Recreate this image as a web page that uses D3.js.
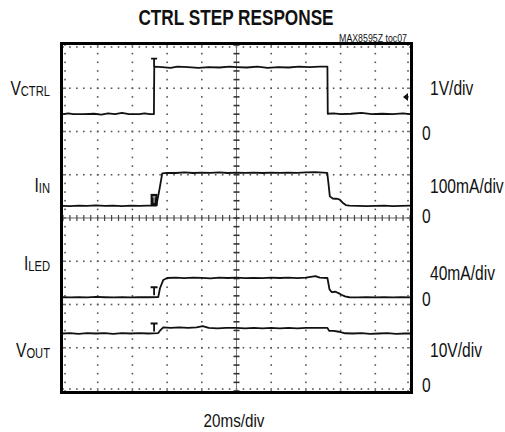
<!DOCTYPE html>
<html>
<head>
<meta charset="utf-8">
<script src="https://cdn.jsdelivr.net/npm/d3@7"></script>
<style>
  html, body { margin: 0; padding: 0; background: #fff; }
  svg { display: block; }
  text { font-family: "Liberation Sans", Arial, sans-serif; fill: #111; }
</style>
</head>
<body>
<div id="chart"></div>
<script>
// time axis: 20ms/div, 10 divisions
const timeDomain = [0, 200];
const divisions = [0, 8];

// traces as [time ms, value] read from the scope shot
const vctrl = [
  [0, 0.40], [3, 0.42], [6, 0.40], [12, 0.40], [18, 0.41], [22, 0.39], [26, 0.42],
  [30, 0.40], [34, 0.43], [38, 0.40], [44, 0.40], [47, 0.42], [50, 0.40], [52.4, 0.40],
  [52.6, 1.50], [57, 1.49], [62, 1.47], [66, 1.50], [72, 1.49], [78, 1.47], [84, 1.49],
  [90, 1.48], [96, 1.50], [100, 1.49], [106, 1.48], [112, 1.50], [118, 1.47], [124, 1.49],
  [130, 1.48], [136, 1.50], [142, 1.49], [148, 1.50], [152.4, 1.50],
  [152.6, 0.41], [156, 0.42], [160, 0.40], [166, 0.41], [172, 0.43], [178, 0.40],
  [184, 0.41], [190, 0.40], [196, 0.42], [200, 0.40]
];
const iin = [
  [0, 28], [4, 27.5], [9, 28.5], [14, 28], [19, 29], [24, 28], [29, 28.5], [34, 27.5],
  [39, 28.5], [44, 28], [49, 28.5], [53.8, 28.5], [55.5, 64], [57.2, 103], [60, 104.5],
  [65, 104], [70, 105.5], [75, 104], [80, 105], [85, 104.5], [90, 105.5], [95, 104],
  [100, 105], [105, 104.5], [110, 105], [115, 104], [120, 105], [125, 104.5], [130, 105],
  [135, 104.5], [140, 105.5], [145, 106], [150, 105], [152.3, 104.5], [153.0, 80],
  [153.8, 50], [155.5, 45], [157, 44.5], [158.5, 44], [159.5, 42.5], [161, 36], [163, 30],
  [165, 28.5], [170, 28], [175, 27.5], [180, 28], [185, 28.5], [190, 27.5], [195, 28],
  [200, 28.5]
];
const iled = [
  [0, 6.7], [4, 6.5], [9, 6.9], [14, 6.6], [19, 7.0], [24, 6.7], [29, 6.5], [34, 6.8],
  [39, 6.6], [44, 6.9], [49, 6.7], [54.9, 6.8], [55.9, 15], [57.8, 22.7], [60, 24.5],
  [65, 24.8], [70, 24.3], [75, 24.9], [80, 24.6], [85, 24.2], [90, 24.8], [95, 24.5],
  [100, 24.9], [105, 24.4], [110, 24.7], [115, 24.3], [120, 24.8], [125, 24.5],
  [130, 24.9], [135, 24.4], [140, 24.8], [145.5, 26.3], [148, 24.8], [152.4, 24.5],
  [153.6, 14], [154.8, 11.5], [157, 11.8], [158.8, 10.5], [160.5, 9], [162.5, 7.5],
  [165, 6.7], [170, 6.5], [175, 6.8], [180, 6.6], [185, 6.9], [190, 6.5], [195, 6.8],
  [200, 6.6]
];
const vout = [
  [0, 13.3], [4, 13.4], [9, 13.2], [14, 13.4], [19, 13.3], [24, 13.4], [29, 13.2],
  [34, 13.4], [39, 13.3], [44, 13.4], [49, 13.3], [54.9, 13.4], [56, 14.0], [57.8, 14.7],
  [62, 14.6], [67, 14.7], [72, 14.6], [77, 14.7], [80.5, 15.0], [84, 14.6], [89, 14.5],
  [94, 14.6], [100, 14.6], [105, 14.5], [110, 14.6], [115, 14.5], [120, 14.6],
  [125, 14.5], [130, 14.6], [135, 14.5], [140, 14.6], [145, 14.6], [152.4, 14.6],
  [153.4, 13.9], [156, 13.9], [159, 13.7], [162.6, 13.35], [167, 13.3], [172, 13.4],
  [177, 13.2], [182, 13.3], [187, 13.4], [192, 13.2], [197, 13.3], [200, 13.3]
];

const channels = ["VCTRL", "IIN", "ILED", "VOUT"];
const channelMain = ["V", "I", "I", "V"];
const channelSub = ["CTRL", "IN", "LED", "OUT"];
const scaleLabels = ["1V/div", "100mA/div", "40mA/div", "10V/div"];
const perDiv = [1, 100, 40, 10];
const zeroDiv = [6, 4, 2, 0];
const traces = [vctrl, iin, iled, vout];
const triggerMs = 52.5;
const triggerLevel = 0.8;

const width = 505;
const height = 432;
const plot = { left: 63, right: 410, top: 45, bottom: 391 };
const narrow = 0.8; // horizontal squeeze to mimic a narrow face

const svg = d3.select("#chart")
  .append("svg")
  .attr("width", width)
  .attr("height", height)
  .attr("viewBox", `0 0 ${width} ${height}`);

svg.append("rect").attr("width", width).attr("height", height).attr("fill", "#fff");

const x = d3.scaleLinear().domain(timeDomain).range([plot.left, plot.right]);
const y = d3.scaleLinear().domain(divisions).range([plot.bottom, plot.top]);

const minorX = d3.range(timeDomain[0], timeDomain[1] + 0.01, 4);
const minorY = d3.range(divisions[0], divisions[1] + 0.01, 0.2);
const majorX = d3.range(20, 200, 20).filter(d => d !== 100);
const majorY = d3.range(1, 8).filter(d => d !== 4);

// narrow text helper
const addText = (px, py, anchor, size, str) =>
  svg.append("text")
    .attr("transform", `translate(${px},${py}) scale(${narrow},1)`)
    .attr("text-anchor", anchor)
    .style("font-size", size + "px")
    .text(str);

// dotted graticule
const grid = svg.append("g").attr("fill", "#555");
majorY.forEach(dv => {
  grid.selectAll(null).data(minorX).enter().append("rect")
    .attr("x", d => x(d) - 0.8).attr("y", y(dv) - 0.8)
    .attr("width", 1.6).attr("height", 1.6);
});
majorX.forEach(t => {
  grid.selectAll(null).data(minorY).enter().append("rect")
    .attr("x", x(t) - 0.8).attr("y", d => y(d) - 0.8)
    .attr("width", 1.6).attr("height", 1.6);
});
// dots along inside of frame
[plot.top + 2, plot.bottom - 2].forEach(py => {
  grid.selectAll(null).data(minorX).enter().append("rect")
    .attr("x", d => x(d) - 0.8).attr("y", py - 0.8)
    .attr("width", 1.6).attr("height", 1.6);
});
[plot.left + 2, plot.right - 2].forEach(px => {
  grid.selectAll(null).data(minorY).enter().append("rect")
    .attr("x", px - 0.8).attr("y", d => y(d) - 0.8)
    .attr("width", 1.6).attr("height", 1.6);
});

// center cross with ticks
const cross = svg.append("g");
cross.append("line")
  .attr("x1", x(100)).attr("x2", x(100))
  .attr("y1", plot.top).attr("y2", plot.bottom)
  .attr("stroke", "#777").attr("stroke-width", 1);
cross.append("line")
  .attr("x1", plot.left).attr("x2", plot.right)
  .attr("y1", y(4)).attr("y2", y(4))
  .attr("stroke", "#666").attr("stroke-width", 1.2);
cross.selectAll(null).data(minorY).enter().append("line")
  .attr("x1", x(100) - 3).attr("x2", x(100) + 3)
  .attr("y1", d => y(d)).attr("y2", d => y(d))
  .attr("stroke", "#333").attr("stroke-width", 1.6);
cross.selectAll(null).data(minorX).enter().append("line")
  .attr("x1", d => x(d)).attr("x2", d => x(d))
  .attr("y1", y(4) - 3).attr("y2", y(4) + 3)
  .attr("stroke", "#444").attr("stroke-width", 1.2);

// traces
const traceGroup = svg.append("g");
traces.forEach((data, i) => {
  const line = d3.line()
    .x(d => x(d[0]))
    .y(d => y(zeroDiv[i] + d[1] / perDiv[i]));
  traceGroup.append("path")
    .datum(data)
    .attr("d", line)
    .attr("fill", "none")
    .attr("stroke", "#111")
    .attr("stroke-width", 1.8)
    .attr("stroke-linejoin", "round");
});

// trigger markers
const tx = x(triggerMs);
// VCTRL "T"
const vTop = y(zeroDiv[0] + 1.50 / perDiv[0]);
traceGroup.append("path")
  .attr("d", `M${tx - 3},${vTop - 8} H${tx + 3} M${tx},${vTop - 8} V${vTop}`)
  .attr("stroke", "#111").attr("stroke-width", 1.8).attr("fill", "none");
// IIN filled marker
const iLow = y(zeroDiv[1] + 28 / perDiv[1]);
traceGroup.append("rect")
  .attr("x", tx - 3.5).attr("y", iLow - 12).attr("width", 7).attr("height", 12)
  .attr("fill", "#111");
traceGroup.append("path")
  .attr("d", `M${tx - 1.5},${iLow - 9} H${tx + 1.5} M${tx},${iLow - 9} V${iLow - 3}`)
  .attr("stroke", "#fff").attr("stroke-width", 0.8);
// ILED and VOUT "T"
[[2, 6.7], [3, 13.3]].forEach(([ci, lvl]) => {
  const base = y(zeroDiv[ci] + lvl / perDiv[ci]);
  traceGroup.append("path")
    .attr("d", `M${tx - 3.5},${base - 10} H${tx + 3.5} M${tx},${base - 10} V${base - 2}`)
    .attr("stroke", "#111").attr("stroke-width", 1.8).attr("fill", "none");
});
// trigger level arrow on right edge
const ty = y(zeroDiv[0] + triggerLevel / perDiv[0]);
traceGroup.append("path")
  .attr("d", `M${plot.right - 7},${ty} L${plot.right - 2},${ty - 4} L${plot.right - 2},${ty + 4} Z`)
  .attr("fill", "#111");

// frame
svg.append("rect")
  .attr("x", plot.left - 1.5).attr("y", plot.top - 1.5)
  .attr("width", plot.right - plot.left + 3).attr("height", plot.bottom - plot.top + 3)
  .attr("fill", "none").attr("stroke", "#000").attr("stroke-width", 3);

// titles
addText(236, 25, "middle", 21.5, "CTRL STEP RESPONSE").style("font-weight", "bold");
addText(407, 42, "end", 11, "MAX8595Z toc07").attr("fill", "#333");
addText(234, 427, "middle", 19, "20ms/div");

// channel names (left)
const nameY = [95, 192, 270, 357];
channels.forEach((c, i) => {
  const t = addText(50, nameY[i], "end", 19.5, null);
  t.append("tspan").text(channelMain[i]);
  t.append("tspan").attr("dy", 1).style("font-size", "14px").text(channelSub[i]);
});

// scale labels and zero markers (right)
const scaleY = [95, 193, 280, 357];
const zeroY = [140, 223, 306, 392];
scaleLabels.forEach((s, i) => {
  addText(430, scaleY[i], "start", 19.5, s);
  addText(422, zeroY[i], "start", 19.5, "0");
});
</script>
</body>
</html>
